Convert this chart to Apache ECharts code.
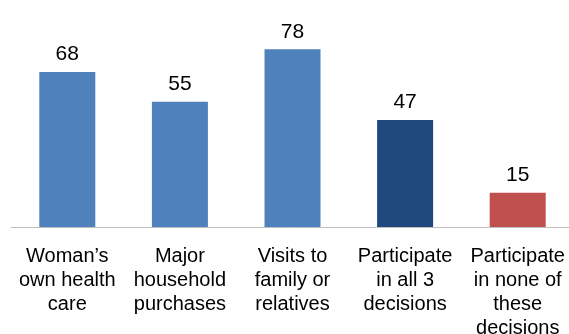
<!DOCTYPE html>
<html>
<head>
<meta charset="utf-8">
<script src="https://cdn.jsdelivr.net/npm/echarts@6/dist/echarts.min.js"></script>
<style>
html,body{margin:0;padding:0;background:#fff;}
#chart{width:569px;height:334px;}
</style>
</head>
<body>
<div id="chart"></div>
<script>
const categories = [
  "Woman\u2019s\nown health\ncare",
  "Major\nhousehold\npurchases",
  "Visits to\nfamily or\nrelatives",
  "Participate\nin all 3\ndecisions",
  "Participate\nin none of\nthese\ndecisions"
];
const values = [68, 55, 78, 47, 15];
const barColors = ["#4F81BD", "#4F81BD", "#4F81BD", "#1F497D", "#C0504D"];

const chart = echarts.init(document.getElementById('chart'), null, {renderer: 'canvas'});
chart.setOption({
  animation: false,
  grid: {left: 11, right: -5, top: 22, bottom: 107, containLabel: false, outerBoundsMode: 'none'},
  xAxis: {
    type: 'category',
    data: categories,
    axisLine: {show: true, lineStyle: {color: '#BFBFBF', width: 1}},
    axisTick: {show: false},
    axisLabel: {
      interval: 0,
      margin: 17,
      color: '#000',
      fontFamily: 'Liberation Sans, Arial, sans-serif',
      fontSize: 20,
      lineHeight: 24
    }
  },
  yAxis: {
    type: 'value',
    min: 0,
    max: 90,
    show: false,
    splitLine: {show: false}
  },
  series: [{
    type: 'bar',
    barWidth: 56,
    data: values.map((v, i) => ({value: v, itemStyle: {color: barColors[i]}})),
    label: {
      show: true,
      position: 'top',
      distance: 7,
      color: '#000',
      fontFamily: 'Liberation Sans, Arial, sans-serif',
      fontSize: 21
    }
  }]
});
</script>
</body>
</html>
